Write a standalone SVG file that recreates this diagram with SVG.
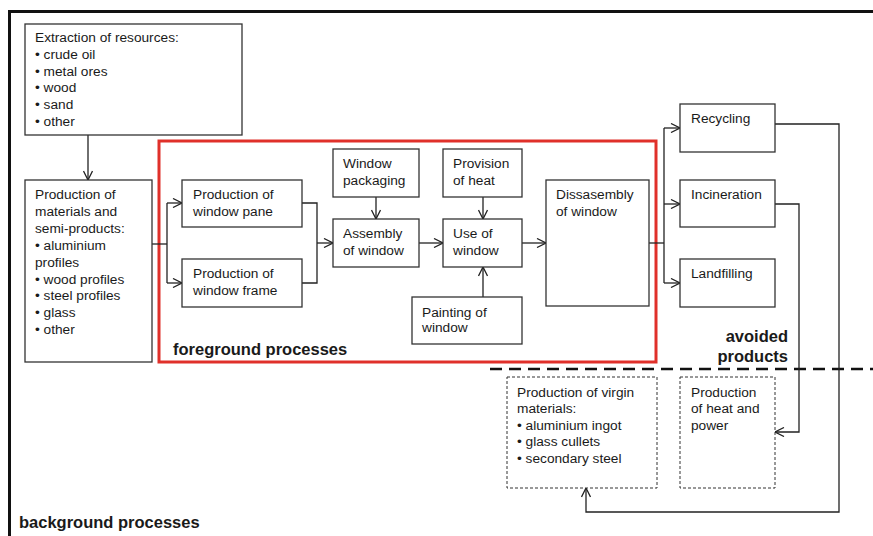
<svg xmlns="http://www.w3.org/2000/svg" width="873" height="536" viewBox="0 0 873 536">
<style>
text{font-family:"Liberation Sans",Arial,sans-serif;font-size:13.7px;fill:#1a1a1a}
.b{font-weight:bold;font-size:16.5px}
.box{fill:#fff;stroke:#333;stroke-width:1.3}
.dbox{fill:#fff;stroke:#333;stroke-width:1;stroke-dasharray:3 2}
.c{fill:none;stroke:#222;stroke-width:1.3}
.ca{fill:none;stroke:#222;stroke-width:1.3;marker-end:url(#ah)}
</style>
<defs>
<marker id="ah" viewBox="0 0 10 10" refX="10" refY="5" markerWidth="10" markerHeight="10" markerUnits="userSpaceOnUse" orient="auto">
<path d="M1,0.5 L10,5 L1,9.5" fill="none" stroke="#222" stroke-width="1.3"/>
</marker>
</defs>
<rect x="0" y="0" width="873" height="536" fill="#fff"/>
<rect x="9.5" y="11.5" width="900" height="600" fill="none" stroke="#111" stroke-width="3"/>
<rect id="foreground" x="159" y="141" width="497" height="221" fill="none" stroke="#e0302a" stroke-width="3"/>
<line x1="490" y1="369" x2="873" y2="369" stroke="#111" stroke-width="2.5" stroke-dasharray="12 7"/>
<text class="b" x="173" y="355">foreground processes</text>
<text class="b" x="788" y="342" text-anchor="end">avoided</text>
<text class="b" x="788" y="362" text-anchor="end">products</text>
<text class="b" x="19" y="528">background processes</text>

<g id="connectors">
<path class="ca" d="M88,135 V180"/>
<path class="c" d="M152,244 H167"/>
<path class="c" d="M167,203 V283"/>
<path class="ca" d="M167,203 H182"/>
<path class="ca" d="M167,283 H182"/>
<path class="c" d="M302,203 H317 V283 H302"/>
<path class="ca" d="M317,243 H333"/>
<path class="ca" d="M376,197 V219"/>
<path class="ca" d="M483,197 V219"/>
<path class="ca" d="M483,297 V267"/>
<path class="ca" d="M419,243 H443"/>
<path class="ca" d="M522,243 H546"/>
<path class="c" d="M649,243 H664"/>
<path class="c" d="M664,128 V283"/>
<path class="ca" d="M664,128 H680"/>
<path class="ca" d="M664,204 H680"/>
<path class="ca" d="M664,283 H680"/>
<path class="ca" d="M775,124 H839 V512 H586 V488"/>
<path class="ca" d="M775,204 H799 V432 H775"/>
</g>

<g id="extraction">
<rect class="box" x="25" y="24" width="217" height="111"/>
<text x="35" y="42">Extraction of resources:</text>
<text x="35" y="59">• crude oil</text>
<text x="35" y="76">• metal ores</text>
<text x="35" y="92">• wood</text>
<text x="35" y="109">• sand</text>
<text x="35" y="126">• other</text>
</g>
<g id="materials">
<rect class="box" x="25" y="180" width="127" height="182"/>
<text x="35" y="199">Production of</text>
<text x="35" y="216">materials and</text>
<text x="35" y="233">semi-products:</text>
<text x="35" y="250">• aluminium</text>
<text x="35" y="267">profiles</text>
<text x="35" y="284">• wood profiles</text>
<text x="35" y="300">• steel profiles</text>
<text x="35" y="317">• glass</text>
<text x="35" y="334">• other</text>
</g>
<g id="pane">
<rect class="box" x="182" y="180" width="120" height="47"/>
<text x="193" y="199">Production of</text>
<text x="193" y="216">window pane</text>
</g>
<g id="frame">
<rect class="box" x="182" y="259" width="120" height="48"/>
<text x="193" y="278">Production of</text>
<text x="193" y="295">window frame</text>
</g>
<g id="packaging">
<rect class="box" x="333" y="149" width="86" height="48"/>
<text x="343" y="168">Window</text>
<text x="343" y="185">packaging</text>
</g>
<g id="assembly">
<rect class="box" x="333" y="219" width="86" height="48"/>
<text x="343" y="238">Assembly</text>
<text x="343" y="255">of window</text>
</g>
<g id="heat">
<rect class="box" x="443" y="149" width="79" height="48"/>
<text x="453" y="168">Provision</text>
<text x="453" y="185">of heat</text>
</g>
<g id="use">
<rect class="box" x="443" y="219" width="79" height="48"/>
<text x="453" y="238">Use of</text>
<text x="453" y="255">window</text>
</g>
<g id="painting">
<rect class="box" x="412" y="297" width="110" height="47"/>
<text x="422" y="317">Painting of</text>
<text x="422" y="332">window</text>
</g>
<g id="disassembly">
<rect class="box" x="546" y="180" width="103" height="126"/>
<text x="556" y="199">Dissasembly</text>
<text x="556" y="216">of window</text>
</g>
<g id="recycling">
<rect class="box" x="680" y="104" width="95" height="48"/>
<text x="691" y="123">Recycling</text>
</g>
<g id="incineration">
<rect class="box" x="680" y="180" width="95" height="47"/>
<text x="691" y="199">Incineration</text>
</g>
<g id="landfilling">
<rect class="box" x="680" y="259" width="95" height="48"/>
<text x="691" y="278">Landfilling</text>
</g>
<g id="virgin">
<rect class="dbox" x="507" y="377" width="150" height="111"/>
<text x="517" y="397">Production of virgin</text>
<text x="517" y="413">materials:</text>
<text x="517" y="430">• aluminium ingot</text>
<text x="517" y="446">• glass cullets</text>
<text x="517" y="463">• secondary steel</text>
</g>
<g id="heatpower">
<rect class="dbox" x="680" y="377" width="95" height="111"/>
<text x="691" y="397">Production</text>
<text x="691" y="413">of heat and</text>
<text x="691" y="430">power</text>
</g>
</svg>
